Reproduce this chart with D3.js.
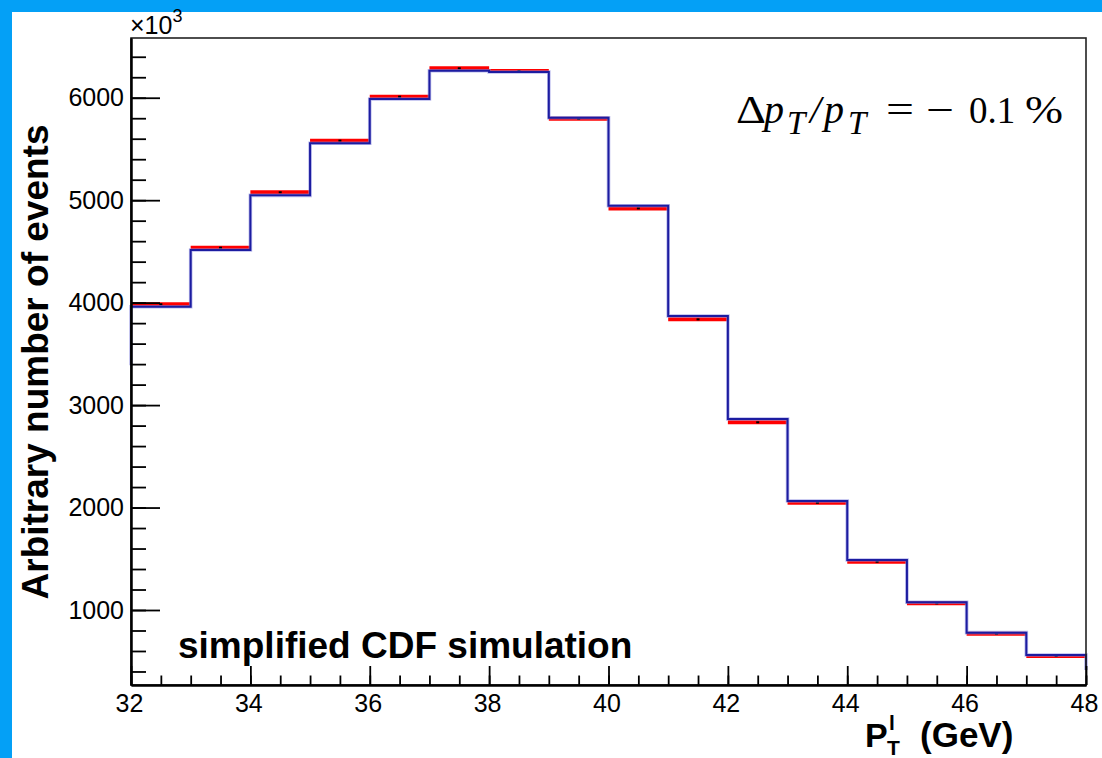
<!DOCTYPE html>
<html>
<head>
<meta charset="utf-8">
<script src="https://cdn.jsdelivr.net/npm/d3@7"></script>
<style>
	body { margin: 0; background: #fff; }
	svg { display: block; }
	text.sans { font-family: "Liberation Sans", Arial, Helvetica, sans-serif; fill: #000; }
	text.math { font-family: "Liberation Serif", "Times New Roman", Times, serif; fill: #000; }
</style>
</head>
<body>
<svg id="canvas" width="1102" height="758"></svg>
<script>

// bin edges in GeV
var binEdges = [32, 33, 34, 35, 36, 37, 38, 39, 40, 41, 42, 43, 44, 45, 46, 47, 48];

// nominal simulation (blue line), units of 10^3 events
var nominal = [3960, 4514, 5047, 5555, 5987, 6263, 6251, 5805, 4946, 3869, 2864, 2064, 1488, 1075, 779, 561];

// shifted by dpT/pT = -0.1% (red, with error bars)
var shifted = [3984, 4536, 5077, 5581, 6010, 6287, 6260, 5795, 4920, 3837, 2832, 2047, 1471, 1065, 769, 551];

// where the blue outline stops at the two frame edges
var leftEdgeEnd = 3390;
var rightEdgeEnd = 415;

var xTicks = [32, 34, 36, 38, 40, 42, 44, 46, 48];
var yTicks = [1000, 2000, 3000, 4000, 5000, 6000];
var xRange = [32, 48];
var yRange = [268, 6583];

var frame = { left: 131, right: 1086, top: 38, bottom: 685 };

chart = {
	init: function(svg) {
		this.svg = svg;
		this.x = d3.scaleLinear().domain(xRange).range([frame.left, frame.right]);
		this.y = d3.scaleLinear().domain(yRange).range([frame.bottom, frame.top]);

		this.background();
		this.histograms();
		this.axes();
		this.labels();
	},

	background: function() {
		this.svg.append('rect')
			.attr('width', 1102).attr('height', 758)
			.attr('fill', '#04a0f6');
		this.svg.append('rect')
			.attr('x', 12).attr('y', 12)
			.attr('width', 1090).attr('height', 746)
			.attr('fill', '#fff');
	},

	histograms: function() {
		var x = this.x, y = this.y;
		var bins = nominal.map(function(v, i) {
			return { x0: binEdges[i], x1: binEdges[i + 1], nom: v, sh: shifted[i] };
		});

		// red shifted histogram, thick bars
		this.svg.append('g').selectAll('line').data(bins)
			.enter().append('line')
				.attr('x1', function(d) { return x(d.x0); })
				.attr('x2', function(d) { return x(d.x1); })
				.attr('y1', function(d) { return y(d.sh); })
				.attr('y2', function(d) { return y(d.sh); })
				.attr('stroke', '#ff0000')
				.attr('stroke-width', 4);

		// tiny error markers
		this.svg.append('g').selectAll('rect').data(bins)
			.enter().append('rect')
				.attr('x', function(d) { return x((d.x0 + d.x1) / 2) - 1.5; })
				.attr('y', function(d) { return y(d.sh) - 1; })
				.attr('width', 3).attr('height', 2)
				.attr('fill', '#000');

		// blue nominal outline
		var pts = [[binEdges[0], leftEdgeEnd]];
		nominal.forEach(function(v, i) { pts.push([binEdges[i], v]); });
		pts.push([binEdges[binEdges.length - 1], nominal[nominal.length - 1]]);
		pts.push([binEdges[binEdges.length - 1], rightEdgeEnd]);

		var line = d3.line()
			.x(function(p) { return x(p[0]); })
			.y(function(p) { return y(p[1]); })
			.curve(d3.curveStepAfter);

		this.svg.append('path')
			.attr('d', line(pts))
			.attr('fill', 'none')
			.attr('stroke', '#8c8ce0')
			.attr('stroke-width', 3.6)
			.attr('stroke-opacity', 0.6);
		this.svg.append('path')
			.attr('d', line(pts))
			.attr('fill', 'none')
			.attr('stroke', '#1c1ca0')
			.attr('stroke-width', 2);
	},

	axes: function() {
		var svg = this.svg;

		// frame
		svg.append('rect')
			.attr('x', frame.left).attr('y', frame.top)
			.attr('width', frame.right - frame.left)
			.attr('height', frame.bottom - frame.top)
			.attr('fill', 'none')
			.attr('stroke', '#222')
			.attr('stroke-width', 1.6);

		var minorY = d3.range(400, 6600, 200);
		var minorX = d3.range(32, 48.01, 0.5);

		var yMinor = svg.append('g')
			.attr('transform', 'translate(' + frame.left + ',0)')
			.call(d3.axisLeft(this.y).tickValues(minorY).tickSize(-15).tickSizeOuter(0).tickFormat(''));
		var yMajor = svg.append('g')
			.attr('transform', 'translate(' + frame.left + ',0)')
			.call(d3.axisLeft(this.y).tickValues(yTicks).tickSize(-29).tickSizeOuter(0).tickPadding(7).tickFormat(d3.format('d')));

		var xMinor = svg.append('g')
			.attr('transform', 'translate(0,' + frame.bottom + ')')
			.call(d3.axisBottom(this.x).tickValues(minorX).tickSize(-9.5).tickSizeOuter(0).tickFormat(''));
		var xMajor = svg.append('g')
			.attr('transform', 'translate(0,' + frame.bottom + ')')
			.call(d3.axisBottom(this.x).tickValues(xTicks).tickSize(-19).tickSizeOuter(0).tickPadding(9).tickFormat(d3.format('d')));

		[yMinor, yMajor, xMinor, xMajor].forEach(function(g) {
			g.select('.domain').attr('stroke', '#000').attr('stroke-width', 2);
			g.selectAll('.tick line').attr('stroke', '#000').attr('stroke-width', 1.8);
			g.selectAll('.tick text')
				.attr('class', 'sans')
				.attr('font-family', '"Liberation Sans", Arial, sans-serif')
				.attr('font-size', 25)
				.attr('fill', '#000');
		});
		xMajor.selectAll('.tick text').attr('dx', -2);
	},

	labels: function() {
		var svg = this.svg;

		var exp = svg.append('text').attr('class', 'sans').attr('x', 130).attr('y', 34).attr('font-size', 25);
		exp.append('tspan').text('\u00d710');
		exp.append('tspan').attr('font-size', 18).attr('dy', -12).text('3');

		svg.append('text')
			.attr('class', 'sans')
			.attr('transform', 'translate(48,362) rotate(-90)')
			.attr('text-anchor', 'middle')
			.attr('font-weight', 'bold')
			.attr('font-size', 37)
			.text('Arbitrary number of events');

		svg.append('text')
			.attr('class', 'sans')
			.attr('x', 178).attr('y', 658)
			.attr('font-weight', 'bold')
			.attr('font-size', 37)
			.text('simplified CDF simulation');

		// x axis title P_T^l (GeV)
		svg.append('text').attr('class', 'sans').attr('x', 865).attr('y', 747)
			.attr('font-weight', 'bold').attr('font-size', 34).text('P');
		svg.append('text').attr('class', 'sans').attr('x', 887).attr('y', 755)
			.attr('font-weight', 'bold').attr('font-size', 21).text('T');
		svg.append('text').attr('class', 'sans').attr('x', 889).attr('y', 730)
			.attr('font-weight', 'bold').attr('font-size', 21).text('l');
		svg.append('text').attr('class', 'sans').attr('x', 920).attr('y', 747)
			.attr('font-weight', 'bold').attr('font-size', 35).text('(GeV)');

		// delta pT / pT = -0.1 %
		var m = [
			{ t: '\u0394', x: 736, y: 123, s: 39, i: false, w: 30 },
			{ t: 'p', x: 764, y: 123, s: 40, i: true, w: 0 },
			{ t: 'T', x: 787, y: 134, s: 33, i: true, w: 0 },
			{ t: '/', x: 810, y: 123, s: 40, i: true, w: 0 },
			{ t: 'p', x: 824, y: 123, s: 40, i: true, w: 0 },
			{ t: 'T', x: 848, y: 134, s: 33, i: true, w: 0 },
			{ t: '=', x: 886, y: 123, s: 40, i: false, w: 28 },
			{ t: '\u2212', x: 926, y: 123, s: 40, i: false, w: 28 },
			{ t: '0.1', x: 969, y: 123, s: 37, i: false, w: 0 },
			{ t: '%', x: 1025, y: 123, s: 40, i: false, w: 38 }
		];
		var mt = svg.append('g').selectAll('text').data(m)
			.enter().append('text')
				.attr('class', 'math')
				.attr('style', 'font-family: "Times New Roman", "Liberation Serif", serif')
				.attr('x', function(d) { return d.x; })
				.attr('y', function(d) { return d.y; })
				.attr('font-size', function(d) { return d.s; })
				.attr('font-style', function(d) { return d.i ? 'italic' : 'normal'; })
				.text(function(d) { return d.t; });
		mt.filter(function(d) { return d.w > 0; })
			.attr('textLength', function(d) { return d.w; })
			.attr('lengthAdjust', 'spacingAndGlyphs');
	}
}

window.onload = function() {
	chart.init(d3.select('#canvas'));
}
</script>
</body>
</html>
